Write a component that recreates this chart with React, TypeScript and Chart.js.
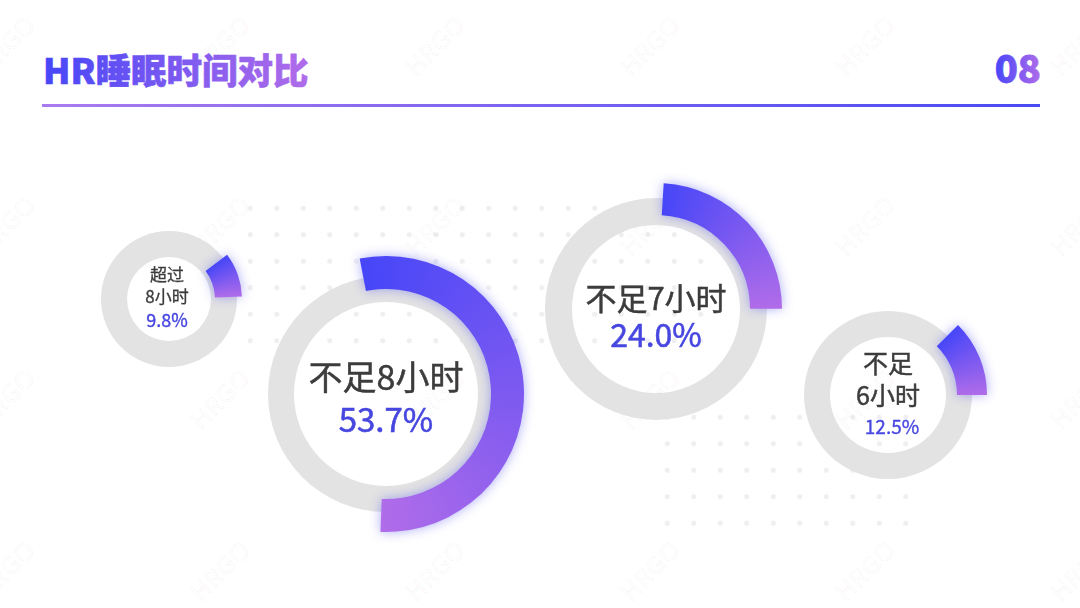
import React, { useEffect, useRef } from "react";
import { Chart, registerables } from "chart.js";

Chart.register(...registerables);

// ---------- data ----------
const categories = ["超过8小时", "不足8小时", "不足7小时", "不足6小时"];
const categoryLines = [["超过", "8小时"], ["不足8小时"], ["不足7小时"], ["不足", "6小时"]];
const shares = [9.8, 53.7, 24.0, 12.5];
const shareLabels = ["9.8%", "53.7%", "24.0%", "12.5%"];
const titleText = "HR睡眠时间对比";
const pageNumber = "08";
const watermarkText = "HRGO";

// ---------- styles / layout ----------
const BLUE = "#4646F8";
const PURPLE = "#B06CE9";
const TRACK = "#E3E3E3";
const LABEL_COLOR = "#3C3C3C";
const PCT_COLOR = "#4747E0";
const FONT = '"Noto Sans CJK SC", "Noto Sans", sans-serif';

const layouts = [
  { cx: 169, cy: 299, trackIn: 42, trackOut: 68, arcIn: 46, arcOut: 73, rotation: 52.7, labelSize: 17, pctSize: 18, labelY: [-25, -3], pctY: 21, textDx: -2, pctDx: -2 },
  { cx: 386, cy: 394, trackIn: 92, trackOut: 118, arcIn: 105, arcOut: 138, rotation: -11, labelSize: 34, pctSize: 33, labelY: [-16], pctY: 27, textDx: 0, pctDx: 0 },
  { cx: 656, cy: 309, trackIn: 84, trackOut: 111, arcIn: 94, arcOut: 126, rotation: 3.5, labelSize: 31, pctSize: 32, labelY: [-11], pctY: 26, textDx: 0, pctDx: 0 },
  { cx: 888, cy: 395, trackIn: 58, trackOut: 84, arcIn: 69, arcOut: 99, rotation: 45, labelSize: 25, pctSize: 19, labelY: [-31, 1], pctY: 32, textDx: 0, pctDx: 4 },
];

const glowPlugin = {
  id: "glow",
  beforeDatasetDraw(chart: any) {
    const ctx = chart.ctx;
    ctx.save();
    ctx.shadowColor = "rgba(70,70,240,0.45)";
    ctx.shadowBlur = 12;
    ctx.shadowOffsetX = 0;
    ctx.shadowOffsetY = 0;
  },
  afterDatasetDraw(chart: any) {
    chart.ctx.restore();
  },
};

const pct = (inner: number, outer: number) => (inner / outer) * 100 + "%";

function Donut({ index }: { index: number }) {
  const trackRef = useRef<HTMLCanvasElement>(null);
  const arcRef = useRef<HTMLCanvasElement>(null);
  const L = layouts[index];
  const pad = 22;
  const size = 2 * (L.arcOut + pad);

  useEffect(() => {
    const common: any = {
      responsive: false,
      animation: false,
      events: [],
      layout: { padding: 0 },
      plugins: { legend: { display: false }, tooltip: { enabled: false } },
    };
    const track = new Chart(trackRef.current as HTMLCanvasElement, {
      type: "doughnut",
      data: {
        labels: [categories[index]],
        datasets: [{ data: [100], backgroundColor: TRACK, borderWidth: 0 } as any],
      },
      options: { ...common, radius: L.trackOut, cutout: pct(L.trackIn, L.trackOut) },
    });

    const fill = (c: any) => {
      if (c.dataIndex !== 0) return "rgba(0,0,0,0)";
      const chart = c.chart;
      const area = chart.chartArea;
      if (!area) return BLUE;
      const x = (area.left + area.right) / 2;
      const y = (area.top + area.bottom) / 2;
      const data = c.dataset.data as number[];
      const total = data.reduce((a: number, b: number) => a + b, 0);
      const sweep = (data[0] / total) * 360;
      const lead = 4;
      const g = chart.ctx.createConicGradient(((L.rotation - 90 - lead) * Math.PI) / 180, x, y);
      g.addColorStop(0, BLUE);
      g.addColorStop(lead / 360, BLUE);
      g.addColorStop(Math.min((sweep + lead) / 360, 1), PURPLE);
      g.addColorStop(1, PURPLE);
      return g;
    };

    const arc = new Chart(arcRef.current as HTMLCanvasElement, {
      type: "doughnut",
      data: {
        labels: [categories[index], "其他"],
        datasets: [
          {
            data: [shares[index], 100 - shares[index]],
            backgroundColor: fill,
            borderWidth: 0,
            clip: false,
          } as any,
        ],
      },
      options: { ...common, radius: L.arcOut, cutout: pct(L.arcIn, L.arcOut), rotation: L.rotation },
      plugins: [glowPlugin],
    });
    return () => {
      track.destroy();
      arc.destroy();
    };
  }, [index]);

  const canvasStyle: React.CSSProperties = {
    position: "absolute",
    left: L.cx - size / 2,
    top: L.cy - size / 2,
    width: size,
    height: size,
  };

  return (
    <>
      <canvas ref={trackRef} width={size} height={size} style={canvasStyle} />
      <canvas ref={arcRef} width={size} height={size} style={canvasStyle} />
      {categoryLines[index].map((line, i) => (
        <div
          key={"l" + i}
          style={{
            position: "absolute",
            left: L.cx + L.textDx,
            top: L.cy + L.labelY[i],
            transform: "translate(-50%, -55%)",
            fontFamily: FONT,
            fontSize: L.labelSize,
            fontWeight: 400,
            color: LABEL_COLOR,
            WebkitTextStroke: `${L.labelSize > 20 ? 0.5 : 0.3}px ${LABEL_COLOR}`,
            lineHeight: 1,
            whiteSpace: "nowrap",
          }}
        >
          {line}
        </div>
      ))}
      <div
        style={{
          position: "absolute",
          left: L.cx + L.pctDx,
          top: L.cy + L.pctY,
          transform: "translate(-50%, -57%)",
          fontFamily: FONT,
          fontSize: L.pctSize,
          fontWeight: 400,
          color: PCT_COLOR,
          WebkitTextStroke: `${L.pctSize > 20 ? 0.55 : 0.35}px ${PCT_COLOR}`,
          lineHeight: 1,
          whiteSpace: "nowrap",
        }}
      >
        {shareLabels[index]}
      </div>
    </>
  );
}

const wmCols = [5, 220, 435, 650, 865, 1080];
const wmRows = [45, 225, 398, 570];

export default function App() {
  const dots = "radial-gradient(circle, #efeff2 2.2px, rgba(255,255,255,0) 2.9px)";
  return (
    <div
      style={{
        position: "fixed",
        left: 0,
        top: 0,
        width: 1080,
        height: 608,
        background: "#fff",
        overflow: "hidden",
      }}
    >
      {/* dotted patches */}
      <div
        style={{
          position: "absolute",
          left: 237,
          top: 195,
          width: 477,
          height: 160,
          backgroundImage: dots,
          backgroundSize: "26.5px 26.5px",
        }}
      />
      <div
        style={{
          position: "absolute",
          left: 654,
          top: 404,
          width: 265,
          height: 133,
          backgroundImage: dots,
          backgroundSize: "26.5px 26.5px",
        }}
      />
      {/* watermarks */}
      {wmRows.map((y) =>
        wmCols.map((x) => (
          <div
            key={x + "-" + y}
            style={{
              position: "absolute",
              left: x,
              top: y,
              transform: "translate(-50%, -50%) rotate(-45deg)",
              fontFamily: '"Noto Sans", sans-serif',
              fontSize: 24,
              fontWeight: 400,
              color: "transparent",
              WebkitTextStroke: "0.8px rgba(0,0,0,0.05)",
              letterSpacing: 1,
              whiteSpace: "nowrap",
            }}
          >
            {watermarkText}
          </div>
        ))
      )}
      {/* title, page number and rule */}
      <svg width={1080} height={130} style={{ position: "absolute", left: 0, top: 0 }}>
        <defs>
          <linearGradient id="tg" x1="0" y1="0" x2="1" y2="0">
            <stop offset="0" stopColor={BLUE} />
            <stop offset="1" stopColor={PURPLE} />
          </linearGradient>
          <linearGradient id="lg" x1="0" y1="0" x2="1" y2="0">
            <stop offset="0" stopColor="#A97BEF" />
            <stop offset="1" stopColor="#4A4AF2" />
          </linearGradient>
        </defs>
        <text
          x={43}
          y={84}
          fontFamily={FONT}
          fontSize={35.5}
          fontWeight={900}
          fill="url(#tg)"
          stroke="url(#tg)"
          strokeWidth={0.6}
          strokeLinejoin="round"
        >
          {titleText}
        </text>
        <text
          x={1041}
          y={83}
          textAnchor="end"
          fontFamily={FONT}
          fontSize={38}
          fontWeight={900}
          fill="url(#tg)"
          stroke="url(#tg)"
          strokeWidth={0.8}
          strokeLinejoin="round"
        >
          {pageNumber}
        </text>
        <rect x={42} y={104} width={998} height={3} fill="url(#lg)" />
      </svg>
      {shares.map((_, i) => (
        <Donut key={i} index={i} />
      ))}
    </div>
  );
}
